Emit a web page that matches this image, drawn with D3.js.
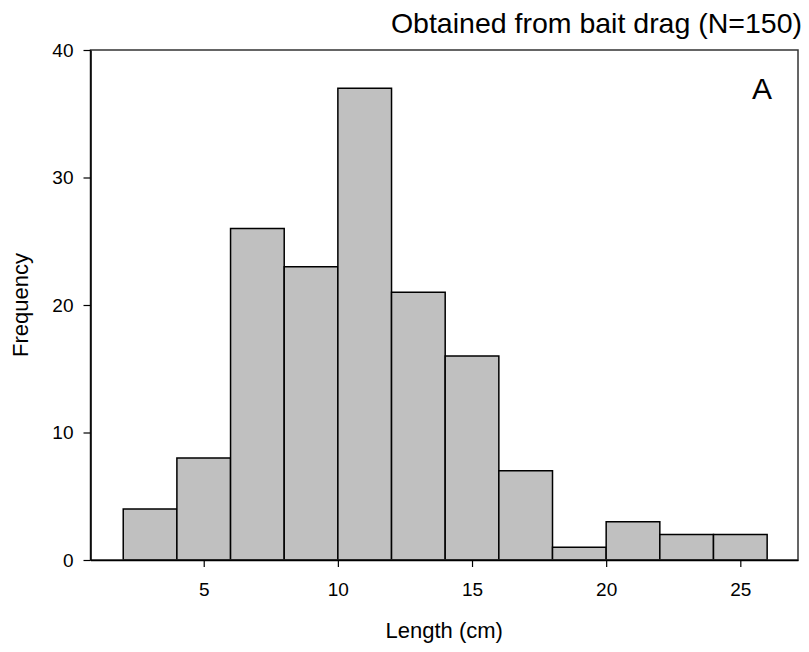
<!DOCTYPE html>
<html>
<head>
<meta charset="utf-8">
<script src="https://cdn.jsdelivr.net/npm/d3@7"></script>
<style>
  body { margin: 0; background: #fff; }
  text { font-family: "Liberation Sans", Arial, sans-serif; fill: #000; }
</style>
</head>
<body>
<div id="chart"></div>
<script>
"use strict";

// Histogram data (bins of 2 cm)
const binStarts = [2, 4, 6, 8, 10, 12, 14, 16, 18, 20, 22, 24];
const binWidth = 2;
const frequencies = [4, 8, 26, 23, 37, 21, 16, 7, 1, 3, 2, 2];
const xTicks = [5, 10, 15, 20, 25];
const yTicks = [0, 10, 20, 30, 40];

const width = 809, height = 652;
const margin = { top: 50, right: 11, bottom: 92, left: 90.5 };

const svg = d3.select("#chart")
    .append("svg")
    .attr("width", width)
    .attr("height", height);

const x = d3.scaleLinear()
    .domain([0.78, 27.15])
    .range([margin.left, width - margin.right]);

const y = d3.scaleLinear()
    .domain([0, 40])
    .range([height - margin.bottom, margin.top]);

// Bars
svg.append("g")
    .selectAll("rect")
    .data(binStarts.map((s, i) => ({ x0: s, x1: s + binWidth, v: frequencies[i] })))
    .join("rect")
    .attr("x", d => x(d.x0))
    .attr("y", d => y(d.v))
    .attr("width", d => x(d.x1) - x(d.x0))
    .attr("height", d => y(0) - y(d.v))
    .attr("fill", "#c0c0c0")
    .attr("stroke", "#000")
    .attr("stroke-width", 1.5);

// Frame
svg.append("rect")
    .attr("x", x.range()[0])
    .attr("y", y.range()[1])
    .attr("width", x.range()[1] - x.range()[0])
    .attr("height", y.range()[0] - y.range()[1])
    .attr("fill", "none")
    .attr("stroke", "#333")
    .attr("stroke-width", 1.5);

// Axes
const xAxis = svg.append("g")
    .attr("transform", `translate(0,${y(0)})`)
    .call(d3.axisBottom(x).tickValues(xTicks).tickSize(7).tickPadding(16).tickSizeOuter(0));

const yAxis = svg.append("g")
    .attr("transform", `translate(${x.range()[0]},0)`)
    .call(d3.axisLeft(y).tickValues(yTicks).tickSize(7).tickPadding(10).tickSizeOuter(0));

[xAxis, yAxis].forEach(a => {
    a.attr("font-size", null).attr("font-family", null);
    a.select(".domain").attr("stroke", "#000").attr("stroke-width", 1.5);
    a.selectAll(".tick line").attr("stroke", "#000").attr("stroke-width", 1.2);
    a.selectAll(".tick text")
        .style("font-size", "19px")
        .style("font-family", "Liberation Sans, Arial, sans-serif")
        .attr("fill", "#000");
});

// Axis titles
svg.append("text")
    .attr("x", (x.range()[0] + x.range()[1]) / 2)
    .attr("y", 638)
    .attr("text-anchor", "middle")
    .style("font-size", "22px")
    .text("Length (cm)");

svg.append("text")
    .attr("transform", `translate(28,${(y.range()[0] + y.range()[1]) / 2}) rotate(-90)`)
    .attr("text-anchor", "middle")
    .style("font-size", "22px")
    .text("Frequency");

// Title and panel letter
svg.append("text")
    .attr("x", 802)
    .attr("y", 33)
    .attr("text-anchor", "end")
    .style("font-size", "28.5px")
    .text("Obtained from bait drag (N=150)");

svg.append("text")
    .attr("x", 772)
    .attr("y", 99)
    .attr("text-anchor", "end")
    .style("font-size", "30px")
    .text("A");
</script>
</body>
</html>
